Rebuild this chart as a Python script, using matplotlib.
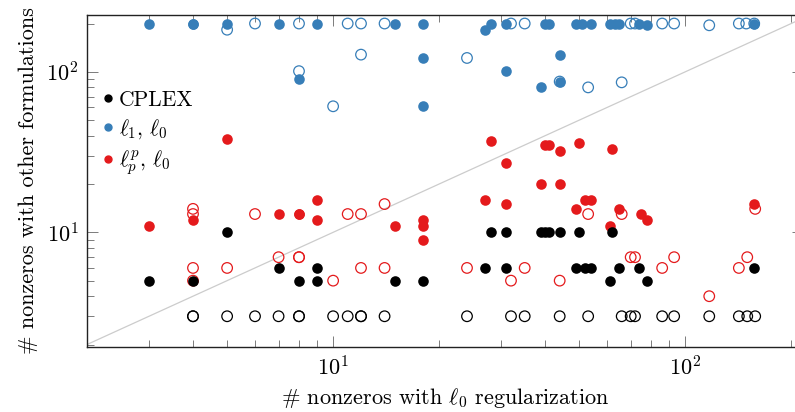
import matplotlib
matplotlib.use("Agg")
import matplotlib.pyplot as plt
from matplotlib.lines import Line2D

plt.rcParams['font.family'] = 'serif'
plt.rcParams['font.serif'] = ['cmr10', 'DejaVu Serif']
plt.rcParams['mathtext.fontset'] = 'cm'
plt.rcParams['axes.formatter.use_mathtext'] = True

BLUE = '#377eb8'
RED = '#e41a1c'
BLACK = '#000000'

# CPLEX
cplex_open_x = [4, 4, 5, 6, 7, 8, 8, 10, 11, 12, 12, 14, 24, 32, 35, 44, 53, 66, 70, 72, 86, 93, 117, 142, 150, 158]
cplex_open_y = [3] * len(cplex_open_x)
cplex_fill_x = [3, 4, 8, 9, 15, 18, 61, 78,
                7, 9, 27, 31, 49, 52, 54, 65, 74, 157,
                5, 28, 31, 39, 40, 41, 44, 50, 62]
cplex_fill_y = [5, 5, 5, 5, 5, 5, 5, 5,
                6, 6, 6, 6, 6, 6, 6, 6, 6, 6,
                10, 10, 10, 10, 10, 10, 10, 10, 10]

# l1, l0
l1_open_x = [6, 8, 11, 12, 14, 32, 35, 70, 72, 86, 93, 142, 149, 157,
             5, 117, 12, 8, 10, 24, 53, 66, 44]
l1_open_y = [200, 200, 200, 200, 200, 200, 200, 200, 200, 200, 200, 200, 200, 200,
             183, 195, 128, 101, 61, 122, 80, 86, 87]
l1_fill_x = [3, 4, 4, 5, 7, 9, 15, 18, 28, 31, 40, 41, 49, 51, 54, 61, 63, 65, 74, 157,
             27, 78, 8, 18, 18, 44, 31, 39, 44]
l1_fill_y = [200] * 20 + [183, 195, 90, 122, 61, 128, 101, 80, 87]

# lp^p, l0
lp_open_x = [4, 4, 6, 11, 12, 14, 53, 66, 158,
             4, 5, 12, 14, 24, 35, 86, 142,
             4, 10, 32, 44,
             7, 8, 8, 70, 72, 93, 150,
             117]
lp_open_y = [14, 13, 13, 13, 13, 15, 13, 13, 14,
             6, 6, 6, 6, 6, 6, 6, 6,
             5, 5, 5, 5,
             7, 7, 7, 7, 7, 7, 7,
             4]
lp_fill_x = [3, 4, 5, 7, 8, 8, 9, 9, 15, 18, 18, 18,
             28, 31, 40, 41, 44, 50, 62, 39, 44, 27, 31, 52, 54, 49, 65, 75, 78, 61, 157]
lp_fill_y = [11, 12, 38, 13, 13, 13, 16, 12, 11, 12, 11, 9,
             37, 27, 35, 35, 32, 36, 33, 20, 20, 16, 15, 16, 16, 14, 14, 13, 12, 11, 15]

fig = plt.figure(figsize=(7.95, 4.12), dpi=100)
ax = fig.add_axes([87 / 795, 1 - 347 / 412, 716 / 795, 332 / 412])

ax.plot([1, 1000], [1, 1000], color='#cccccc', lw=0.9, zorder=1)

ms = 58
lw = 0.9
ax.scatter(l1_open_x, l1_open_y, s=ms, facecolors='none', edgecolors=BLUE, linewidths=lw, zorder=2)
ax.scatter(l1_fill_x, l1_fill_y, s=ms, color=BLUE, linewidths=0, zorder=3)
ax.scatter(lp_open_x, lp_open_y, s=ms, facecolors='none', edgecolors=RED, linewidths=lw, zorder=2)
ax.scatter(lp_fill_x, lp_fill_y, s=ms, color=RED, linewidths=0, zorder=3)
ax.scatter(cplex_open_x, cplex_open_y, s=ms, facecolors='none', edgecolors=BLACK, linewidths=lw, zorder=2)
ax.scatter(cplex_fill_x, cplex_fill_y, s=ms, color=BLACK, linewidths=0, zorder=3)

ax.set_xscale('log')
ax.set_yscale('log')
ax.set_xlim(2, 216)
ax.set_ylim(1.93, 226)

ax.tick_params(which='both', direction='in', top=True, right=True, colors='#666666',
               labelcolor='black', labelsize=16)
ax.tick_params(which='major', length=8, width=0.6, pad=6)
ax.tick_params(which='minor', length=5, width=0.6)
for sp in ax.spines.values():
    sp.set_linewidth(1.0)
    sp.set_color('#222222')

ax.set_xlabel(r'# nonzeros with $\ell_0$ regularization', fontsize=16, labelpad=5)
ax.set_ylabel('# nonzeros with other formulations', fontsize=16, labelpad=6)

handles = [
    Line2D([], [], marker='o', color=BLACK, ls='', markersize=5),
    Line2D([], [], marker='o', color=BLUE, ls='', markersize=5),
    Line2D([], [], marker='o', color=RED, ls='', markersize=5),
]
labels = ['CPLEX', r'$\ell_1,\, \ell_0$', r'$\ell_p^p,\, \ell_0$']
ax.legend(handles, labels, loc='upper left', bbox_to_anchor=(0.01, 0.80), frameon=False,
          fontsize=15.5, handlelength=0.5, handletextpad=0.25, labelspacing=0.35,
          borderaxespad=0.0)

fig.savefig('out.png', dpi=100)
